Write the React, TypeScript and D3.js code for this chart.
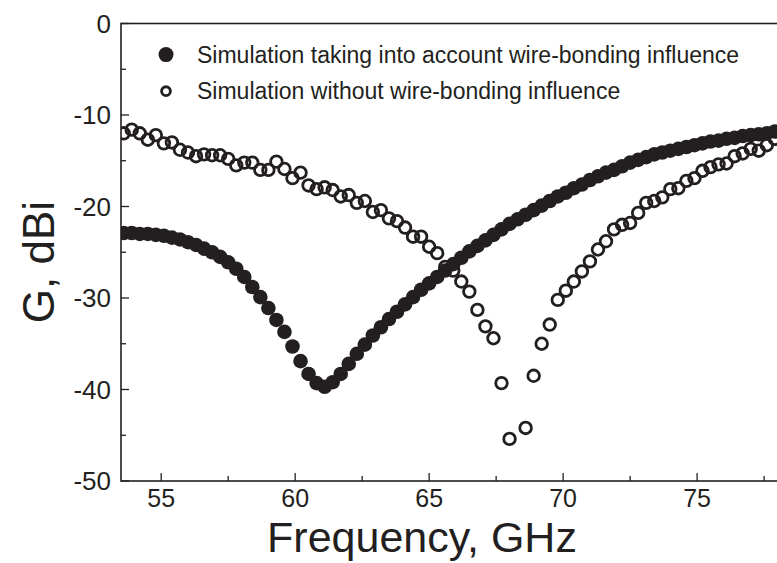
import React from "react";
import * as d3 from "d3";

const freqWB = [
  53.6, 53.9, 54.2, 54.5, 54.8, 55.1, 55.4, 55.7, 56.0, 56.3, 56.6, 56.9, 57.2, 57.5, 57.8, 58.1,
  58.4, 58.7, 59.0, 59.3, 59.6, 59.9, 60.2, 60.5, 60.8, 61.1, 61.4, 61.7, 62.0, 62.3, 62.6, 62.9,
  63.2, 63.5, 63.8, 64.1, 64.4, 64.7, 65.0, 65.3, 65.6, 65.9, 66.2, 66.5, 66.8, 67.1, 67.4, 67.7,
  68.0, 68.3, 68.6, 68.9, 69.2, 69.5, 69.8, 70.1, 70.4, 70.7, 71.0, 71.3, 71.6, 71.9, 72.2, 72.5,
  72.8, 73.1, 73.4, 73.7, 74.0, 74.3, 74.6, 74.9, 75.2, 75.5, 75.8, 76.1, 76.4, 76.7, 77.0, 77.3,
  77.6, 77.9, 78.2,
];
const gainWB = [
  -22.9, -22.9, -23.0, -23.0, -23.1, -23.2, -23.4, -23.6, -23.9, -24.2, -24.6, -25.0, -25.5, -26.1, -26.8, -27.7,
  -28.8, -29.9, -31.1, -32.4, -33.7, -35.3, -36.9, -38.3, -39.3, -39.7, -39.2, -38.3, -37.2, -36.1, -35.1, -34.1,
  -33.2, -32.3, -31.5, -30.7, -29.9, -29.1, -28.4, -27.7, -27.0, -26.3, -25.6, -24.9, -24.3, -23.7, -23.1, -22.5,
  -21.9, -21.4, -20.9, -20.4, -19.9, -19.4, -18.9, -18.5, -18.0, -17.6, -17.1, -16.7, -16.3, -16.0, -15.6, -15.2,
  -14.9, -14.6, -14.3, -14.1, -13.9, -13.7, -13.5, -13.3, -13.1, -12.9, -12.8, -12.6, -12.5, -12.3, -12.2, -12.1,
  -12.0, -11.8, -11.7,
];

const freqNoWB = [
  53.6, 53.9, 54.2, 54.5, 54.8, 55.1, 55.4, 55.7, 56.0, 56.3, 56.6, 56.9, 57.2, 57.5, 57.8, 58.1,
  58.4, 58.7, 59.0, 59.3, 59.6, 59.9, 60.2, 60.5, 60.8, 61.1, 61.4, 61.7, 62.0, 62.3, 62.6, 62.9,
  63.2, 63.5, 63.8, 64.1, 64.4, 64.7, 65.0, 65.3, 65.6, 65.9, 66.2, 66.5, 66.8, 67.1, 67.4, 67.7,
  68.0, 68.6, 68.9, 69.2, 69.5, 69.8, 70.1, 70.4, 70.7, 71.0, 71.3, 71.6, 71.9, 72.2, 72.5, 72.8,
  73.1, 73.4, 73.7, 74.0, 74.3, 74.6, 74.9, 75.2, 75.5, 75.8, 76.1, 76.4, 76.7, 77.0, 77.3, 77.6,
  77.9, 78.2,
];
const gainNoWB = [
  -12.0, -11.6, -12.0, -12.7, -12.2, -13.1, -13.0, -13.8, -14.1, -14.5, -14.3, -14.4, -14.4, -14.8, -15.5, -15.2,
  -15.2, -16.0, -16.0, -15.1, -15.9, -16.9, -16.3, -17.7, -18.1, -17.9, -18.2, -18.9, -18.75, -19.6, -19.4, -20.6,
  -20.4, -21.3, -21.6, -22.3, -23.3, -23.3, -24.4, -25.1, -26.6, -27.0, -28.2, -29.3, -31.3, -33.1, -34.4, -39.3,
  -45.4, -44.2, -38.5, -35.0, -32.9, -30.2, -29.2, -28.2, -27.1, -26.0, -24.7, -23.8, -22.5, -22.0, -21.8, -20.7,
  -19.6, -19.4, -19.0, -18.1, -18.0, -17.2, -16.9, -16.1, -15.7, -15.4, -15.3, -14.5, -14.2, -13.7, -13.9, -13.3,
  -12.6, -12.0,
];

const xTicks = [55, 60, 65, 70, 75];
const xMinorTicks = [55, 57.5, 60, 62.5, 65, 67.5, 70, 72.5, 75, 77.5];
const yTicks = [0, -10, -20, -30, -40, -50];
const yMinorTicks = [0, -5, -10, -15, -20, -25, -30, -35, -40, -45, -50];
const legendLabels = [
  "Simulation taking into account wire-bonding influence",
  "Simulation without wire-bonding influence",
];
const legendValues = [-3.4, -7.4];

const W = 777;
const H = 563;
const M = { left: 121, top: 23.5, right: 779, bottom: 481 };
const INK = "#231f20";
const FONT = "'Liberation Sans', Arial, sans-serif";

export default function App() {
  const x = d3.scaleLinear().domain([53.5, 78]).range([M.left, M.right - 1.5]);
  const y = d3.scaleLinear().domain([0, -50]).range([M.top, M.bottom]);

  const wb = freqWB.map((f, i) => ({ f, g: gainWB[i] }));
  const nowb = freqNoWB.map((f, i) => ({ f, g: gainNoWB[i] }));

  return (
    <svg
      width={W}
      height={H}
      style={{ position: "absolute", left: 0, top: 0, background: "#fff" }}
      fontFamily={FONT}
    >
      <defs>
        <clipPath id="plotClip">
          <rect x={M.left} y={M.top} width={M.right - M.left} height={M.bottom - M.top} />
        </clipPath>
      </defs>
      <rect x={0} y={0} width={W} height={H} fill="#fff" />

      {/* data */}
      <g clipPath="url(#plotClip)">
        {wb.map((d, i) => (
          <circle key={"w" + i} cx={x(d.f)} cy={y(d.g)} r={7.3} fill={INK} />
        ))}
        {nowb.map((d, i) => (
          <circle
            key={"n" + i}
            cx={x(d.f)}
            cy={y(d.g)}
            r={5.8}
            fill="none"
            stroke={INK}
            strokeWidth={2.8}
          />
        ))}
      </g>

      {/* frame */}
      <rect
        x={M.left}
        y={M.top}
        width={M.right - M.left}
        height={M.bottom - M.top}
        fill="none"
        stroke={INK}
        strokeWidth={1.6}
      />

      {/* y ticks */}
      {yMinorTicks.map((t) => (
        <line
          key={"ym" + t}
          x1={M.left}
          x2={M.left + (t % 10 === 0 ? 8 : 5)}
          y1={y(t)}
          y2={y(t)}
          stroke={INK}
          strokeWidth={1.3}
        />
      ))}
      {yTicks.map((t) => (
        <text
          key={"yl" + t}
          x={M.left - 10}
          y={y(t)}
          dy="0.36em"
          textAnchor="end"
          fontSize={26}
          fill={INK}
        >
          {t === 0 ? "0" : "-" + Math.abs(t)}
        </text>
      ))}

      {/* x ticks */}
      {xMinorTicks.map((t) => (
        <line
          key={"xm" + t}
          x1={x(t)}
          x2={x(t)}
          y1={M.bottom}
          y2={M.bottom - (t % 5 === 0 ? 8 : 5)}
          stroke={INK}
          strokeWidth={1.3}
        />
      ))}
      {xTicks.map((t) => (
        <text
          key={"xl" + t}
          x={x(t)}
          y={M.bottom + 26}
          textAnchor="middle"
          fontSize={25}
          fill={INK}
        >
          {t}
        </text>
      ))}

      {/* axis titles */}
      <text x={422} y={552} textAnchor="middle" fontSize={43} fill={INK}>
        Frequency, GHz
      </text>
      <text
        transform={`translate(54, 262) rotate(-90)`}
        textAnchor="middle"
        fontSize={44}
        fill={INK}
      >
        G, dBi
      </text>

      {/* legend */}
      <circle cx={166} cy={y(legendValues[0])} r={7.5} fill={INK} />
      <circle
        cx={166}
        cy={y(legendValues[1])}
        r={4.4}
        fill="none"
        stroke={INK}
        strokeWidth={2.9}
      />
      <text x={197} y={y(legendValues[0])} dy="0.35em" fontSize={23} fill={INK}>
        {legendLabels[0]}
      </text>
      <text x={197} y={y(legendValues[1])} dy="0.35em" fontSize={23} fill={INK}>
        {legendLabels[1]}
      </text>
    </svg>
  );
}
